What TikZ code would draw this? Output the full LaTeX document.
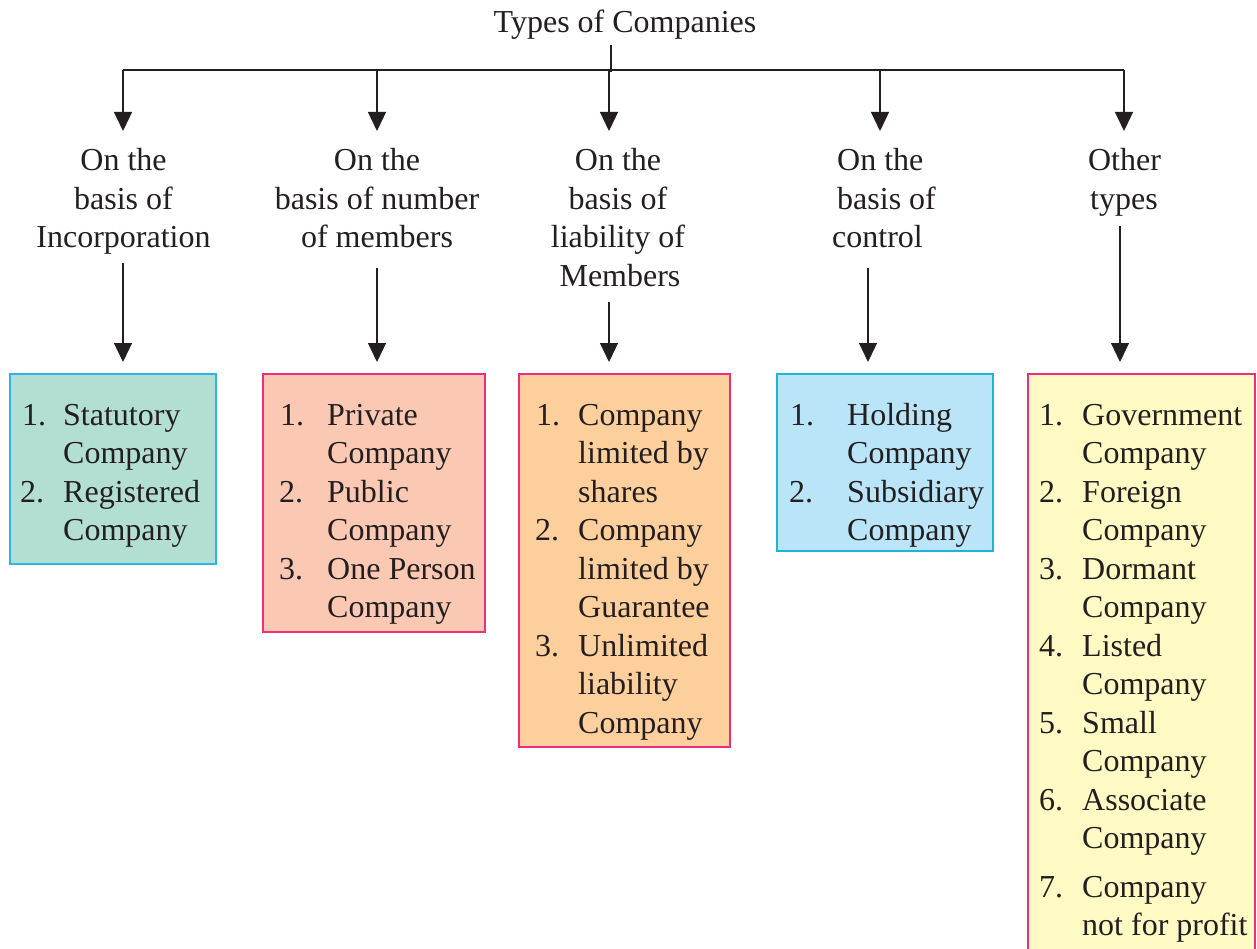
\documentclass[tikz,border=0pt]{standalone}
\usepackage{fontspec}
\setmainfont{Liberation Serif}
\usetikzlibrary{arrows.meta}
\definecolor{ink}{HTML}{231F20}
\definecolor{cyanb}{HTML}{2CB5E9}
\definecolor{cyanc}{HTML}{1EB4D6}
\definecolor{pinkb}{HTML}{EC2F7B}
\definecolor{tealf}{HTML}{B3DED4}
\definecolor{salmonf}{HTML}{FBC9B3}
\definecolor{orangef}{HTML}{FDCF9D}
\definecolor{bluef}{HTML}{BAE5F9}
\definecolor{yellowf}{HTML}{FFF9C3}
\begin{document}
\begin{tikzpicture}[x=1pt,y=-1pt,
  txt/.style={font=\fontsize{32}{38.5}\selectfont, inner sep=0pt, text=ink},
  lt/.style={txt, anchor=base west},
  ct/.style={txt, anchor=base},
  conn/.style={draw=ink, line width=1.3pt},
  arr/.style={conn, -{Triangle[length=19pt,width=18pt]}},
  boxs/.style={line width=1.5pt, anchor=north west, inner sep=0pt, outer sep=0pt}]
\useasboundingbox (0,0) rectangle (1257,949);

% boxes
\node[boxs, draw=cyanb, fill=tealf,   minimum width=206pt, minimum height=190pt] (b1) at (10,374) {};
\node[boxs, draw=pinkb, fill=salmonf, minimum width=222pt, minimum height=258pt] (b2) at (263,374) {};
\node[boxs, draw=pinkb, fill=orangef, minimum width=211pt, minimum height=373pt] (b3) at (519,374) {};
\node[boxs, draw=cyanc, fill=bluef,   minimum width=216pt, minimum height=177pt] (b4) at (777,374) {};
\node[boxs, draw=pinkb, fill=yellowf, minimum width=227pt, minimum height=600pt] (b5) at (1028,374) {};

% title
\node[ct] (title) at (625,33) {Types of Companies};
\coordinate (stubtop) at (611,45);
\coordinate (stubbot) at (611,72);
\draw[conn] (stubtop) -- (stubbot);

% bus and drops
\foreach \x [count=\i] in {123,377,609,880,1124} {
  \coordinate (d\i) at (\x,70);
  \coordinate (e\i) at (\x,131);
  \draw[arr] (d\i) -- (e\i);
}
\draw[conn] (d1) -- (d5);

% category labels
\node[ct] (l1a) at (123.5,171) {On the};
\node[ct] (l1b) at (123.5,209.5) {basis of};
\node[ct] (l1c) at (123.5,248) {Incorporation};

\node[ct] (l2a) at (377,171) {On the};
\node[ct] (l2b) at (377,209.5) {basis of number};
\node[ct] (l2c) at (377,248) {of members};

\node[ct] (l3a) at (618,171) {On the};
\node[ct] (l3b) at (618,209.5) {basis of};
\node[ct] (l3c) at (618,248) {liability of};
\node[ct] (l3d) at (620,286.5) {Members};

\node[lt] (l4a) at (837,171) {On the};
\node[lt] (l4b) at (837,209.5) {basis of};
\node[lt] (l4c) at (832,248) {control};

\node[ct] (l5a) at (1124.5,171) {Other};
\node[ct] (l5b) at (1124,209.5) {types};

% lower arrows
\foreach \x/\t [count=\i] in {123/263,377/268,609/302,868/268,1120/226} {
  \coordinate (f\i) at (\x,\t);
  \coordinate (g\i) at (\x,362);
  \draw[arr] (f\i) -- (g\i);
}

% box 1
\node[lt] (n11) at (22,425) {1.};
\node[lt] (n12) at (20,502) {2.};
\foreach \t [count=\i] in {Statutory,Company,Registered,Company}
  \node[lt] (t1\i) at (63,{425+(\i-1)*38.5}) {\t};

% box 2
\node[lt] (n21) at (280,425) {1.};
\node[lt] (n22) at (279,502) {2.};
\node[lt] (n23) at (279,579) {3.};
\foreach \t [count=\i] in {Private,Company,Public,Company,One Person,Company}
  \node[lt] (t2\i) at (327,{425+(\i-1)*38.5}) {\t};

% box 3
\node[lt] (n31) at (536,425) {1.};
\node[lt] (n32) at (535,540.5) {2.};
\node[lt] (n33) at (535,656) {3.};
\foreach \t [count=\i] in {Company,limited by,shares,Company,limited by,Guarantee,Unlimited,liability,Company}
  \node[lt] (t3\i) at (578,{425+(\i-1)*38.5}) {\t};

% box 4
\node[lt] (n41) at (790,425) {1.};
\node[lt] (n42) at (789,502) {2.};
\foreach \t [count=\i] in {Holding,Company,Subsidiary,Company}
  \node[lt] (t4\i) at (847,{425+(\i-1)*38.5}) {\t};

% box 5
\foreach \n [count=\i] in {1,2,3,4,5,6}
  \node[lt] (n5\i) at (1039,{425+(\i-1)*77}) {\n.};
\foreach \t [count=\i] in {Government,Company,Foreign,Company,Dormant,Company,Listed,Company,Small,Company,Associate,Company}
  \node[lt] (t5\i) at (1082,{425+(\i-1)*38.5}) {\t};
\node[lt] (n57) at (1039,897) {7.};
\node[lt] (t513) at (1082,897) {Company};
\node[lt] (t514) at (1082,935) {not for profit};
\end{tikzpicture}
\end{document}
